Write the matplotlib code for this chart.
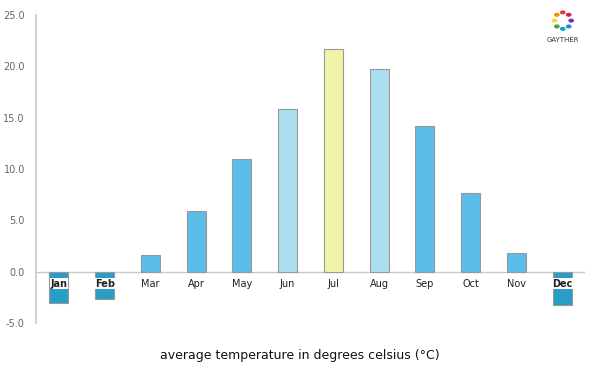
import numpy as np
import matplotlib.pyplot as plt

months = ["Jan", "Feb", "Mar", "Apr", "May", "Jun", "Jul", "Aug", "Sep", "Oct", "Nov", "Dec"]
temps = [-3.1, -2.7, 1.6, 5.9, 11.0, 15.8, 21.7, 19.7, 14.2, 7.7, 1.8, -3.3]
colors = ["#2a9dc6", "#2a9dc6", "#5bbde8", "#5bbde8", "#5bbde8", "#acdef0",
          "#f1f4a8", "#acdef0", "#5bbde8", "#5bbde8", "#5bbde8", "#2a9dc6"]
yticks = [-5, 0, 5, 10, 15, 20, 25]

fig = plt.figure(figsize=(6, 3.75), dpi=100)
ax = fig.add_axes([0.06, 0.139, 0.915, 0.821])
x = np.arange(len(months))
ax.bar(x, temps, width=0.42, color=colors, edgecolor="#999999", linewidth=0.8, zorder=2)
ax.axhline(0, color="#c8c8c8", linewidth=1, zorder=1)
ax.set_xlim(-0.5, 11.5)
ax.set_ylim(-5, 25)
ax.set_yticks(yticks)
ax.set_yticklabels([f"{v:.1f}" for v in yticks], fontsize=7, color="#666666")
ax.tick_params(axis="y", length=0, pad=8)
ax.set_xticks([])
for s in ["top", "right", "bottom"]:
    ax.spines[s].set_visible(False)
ax.spines["left"].set_color("#c8c8c8")
ax.spines["left"].set_linewidth(1.2)

for i, (m, t) in enumerate(zip(months, temps)):
    if t < 0:
        ax.text(i, -1.2, m, ha="center", va="center", fontsize=7, fontweight="bold",
                color="#222222", zorder=3,
                bbox=dict(boxstyle="square,pad=0.05", fc="white", ec="none"))
    else:
        ax.text(i, -1.2, m, ha="center", va="center", fontsize=7, color="#222222", zorder=3)

fig.text(0.5, 0.053, "average temperature in degrees celsius (°C)", ha="center",
         va="center", fontsize=9, color="#111111")

# logo
ring = ["#e53935", "#fb8c00", "#fdd835", "#43a047", "#00acc1", "#1e88e5", "#8e24aa", "#d81b60"]
ang = np.linspace(0, 2 * np.pi, len(ring), endpoint=False) + np.pi / 2
lx, ly = 0.938, 0.945
for a, c in zip(ang, ring):
    fig.patches.append(plt.Circle((lx + 0.014 * np.cos(a), ly + 0.022 * np.sin(a)), 0.0035,
                                  color=c, transform=fig.transFigure, figure=fig))
fig.text(lx, 0.893, "GAYTHER", ha="center", va="center", fontsize=5, color="#333333")

fig.savefig("out.png", dpi=100)
